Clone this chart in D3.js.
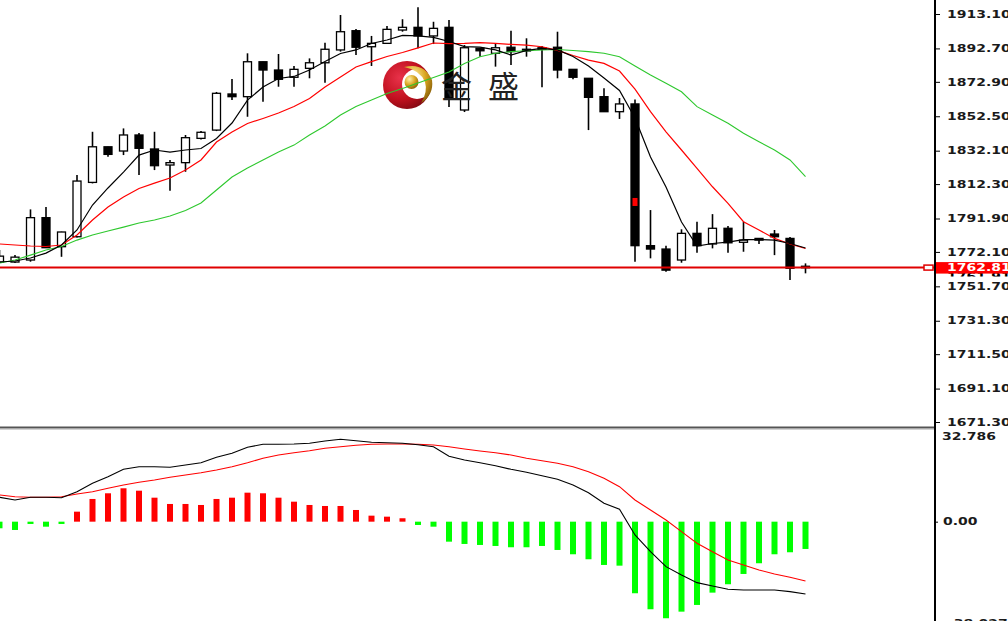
<!DOCTYPE html>
<html><head><meta charset="utf-8">
<script src="https://cdn.jsdelivr.net/npm/d3@7"></script>
<style>html,body{margin:0;padding:0;background:#fff;overflow:hidden}</style>
</head><body><svg id="c" width="1008" height="621"></svg>
<script>
// ---------- DATA ----------
const opens  = [1766.1,1766.1,1767.3,1792.4,1775.2,1781.1,1813.3,1834.4,1831.9,1841.4,1833.1,1823.6,1825.0,1839.4,1844.3,1865.7,1864.1,1884.8,1879.9,1875.6,1880.9,1884.2,1891.8,1903.2,1893.7,1895.7,1903.6,1905.2,1900.1,1905.2,1856.2,1892.8,1889.8,1893.4,1892.2,1892.2,1893.4,1880.3,1875.0,1864.1,1855.2,1859.8,1775.8,1773.8,1767.3,1783.1,1776.8,1786.1,1777.8,1780.1,1782.7,1780.1,1763.6];
const closes = [1769.6,1769.0,1792.4,1774.6,1783.9,1814.1,1834.4,1829.9,1841.4,1833.5,1823.2,1825.0,1839.8,1843.0,1866.1,1864.1,1884.8,1879.9,1874.4,1880.3,1884.2,1892.2,1902.6,1893.4,1895.7,1904.0,1905.2,1900.1,1904.6,1863.1,1893.1,1891.3,1893.1,1890.8,1891.2,1893.1,1879.9,1875.6,1863.7,1855.2,1859.8,1775.8,1773.8,1761.3,1783.1,1775.8,1786.1,1777.5,1779.1,1779.1,1781.1,1762.4,1762.81];
const highs  = [1773.2,1770.2,1797.3,1798.7,1784.1,1817.7,1843.3,1834.4,1845.3,1842.6,1843.3,1826.6,1841.4,1843.7,1866.9,1874.6,1889.8,1884.8,1889.4,1882.3,1886.8,1896.1,1912.5,1904.2,1900.1,1906.0,1910.0,1917.1,1908.5,1909.5,1894.7,1892.8,1895.7,1903.2,1898.7,1894.1,1902.6,1880.3,1875.0,1869.1,1863.3,1862.5,1796.9,1775.8,1785.5,1790.0,1794.5,1787.4,1790.0,1780.1,1785.1,1780.9,1765.3];
const lows   = [1765.5,1765.5,1766.3,1774.4,1769.2,1780.6,1812.7,1828.5,1829.5,1817.7,1820.6,1808.4,1819.6,1838.7,1843.7,1862.1,1852.2,1861.1,1870.0,1870.0,1875.0,1872.4,1890.8,1888.8,1882.3,1895.3,1902.6,1892.8,1895.3,1858.0,1855.0,1887.8,1881.9,1882.9,1887.8,1869.7,1875.0,1874.4,1844.3,1855.2,1850.9,1766.3,1768.3,1760.3,1765.7,1771.6,1774.2,1771.6,1772.2,1776.8,1770.2,1755.4,1759.4];
const maFast = [1766.1,1766.7,1768.5,1771.4,1776.2,1785.1,1799.9,1810.0,1819.4,1829.5,1832.5,1831.3,1832.5,1833.4,1839.3,1848.5,1862.1,1869.8,1874.9,1876.1,1879.9,1884.9,1889.7,1891.8,1895.6,1897.7,1900.4,1900.1,1899.2,1896.8,1893.8,1893.5,1891.8,1888.8,1891.5,1892.7,1891.8,1887.9,1882.3,1875.2,1867.8,1851.5,1828.3,1810.6,1789.8,1775.6,1777.1,1777.9,1779.4,1779.4,1779.1,1777.1,1774.4];
const maMid  = [1776.8,1776.2,1775.6,1775.3,1776.2,1782.1,1791.0,1798.7,1804.6,1809.7,1812.9,1815.9,1820.6,1826.6,1837.2,1843.2,1848.2,1851.2,1854.4,1858.3,1863.0,1869.8,1875.8,1881.7,1884.9,1887.9,1890.3,1893.0,1895.9,1895.6,1895.7,1896.1,1895.7,1895.1,1894.7,1893.7,1891.5,1888.5,1885.8,1883.8,1879.3,1868.6,1855.2,1843.3,1832.5,1821.6,1810.7,1800.9,1790.0,1785.1,1780.1,1776.8,1774.1];
const maSlow = [1765.5,1767.3,1770.2,1773.2,1775.3,1779.1,1782.1,1784.5,1786.8,1789.2,1791.0,1793.4,1796.6,1801.1,1808.8,1816.5,1821.8,1826.6,1831.3,1835.4,1841.4,1846.7,1853.2,1858.3,1862.1,1866.0,1868.9,1872.2,1875.5,1878.7,1883.8,1887.8,1889.8,1890.8,1891.3,1891.8,1892.1,1891.5,1890.8,1889.8,1887.8,1882.3,1876.9,1872.0,1867.0,1858.2,1853.2,1848.3,1842.4,1837.4,1832.5,1826.6,1816.7];
const macdHist   = [-2.36,-2.97,-0.82,-1.79,-0.82,3.58,8.12,10.15,11.94,11.08,8.58,6.33,6.33,5.97,8.12,8.58,10.37,10.15,8.58,7.15,5.97,5.61,5.61,4.18,2.15,1.79,1.22,-1.18,-1.79,-7.15,-7.97,-8.33,-8.69,-9.15,-9.15,-8.69,-10.12,-11.66,-13.44,-15.48,-15.73,-25.6,-31.32,-34.54,-32.18,-29.78,-25.38,-22.38,-18.7,-14.87,-11.66,-10.94,-9.76];
const macdMain   = [8.72,7.76,8.72,8.72,8.58,10.73,13.73,16.09,18.73,19.66,19.66,19.45,20.27,21.09,23.02,24.45,26.6,27.67,27.67,27.78,28.03,28.85,29.46,28.96,28.39,28.24,28.03,27.53,26.81,23.38,22.06,21.09,20.02,18.73,17.66,16.45,15.16,13.12,10.37,6.58,4.43,-4.76,-10.73,-16.09,-19.06,-21.81,-22.99,-24.17,-24.42,-24.42,-24.42,-25.03,-25.85];
const macdSignal = [9.55,8.94,8.72,8.72,8.94,9.90,10.73,11.94,13.12,14.09,14.91,15.87,16.70,17.52,18.48,19.66,21.09,22.67,23.85,24.67,25.38,26.24,26.81,27.32,27.67,27.78,27.78,27.67,27.42,26.81,25.99,25.28,24.67,23.85,22.67,21.81,20.88,19.66,17.88,15.52,12.51,7.76,4.18,0.61,-3.58,-7.72,-10.73,-13.69,-15.48,-17.27,-18.70,-19.88,-21.2];
const priceTicks = [1913.10,1892.70,1872.90,1852.50,1832.10,1812.30,1791.90,1772.10,1751.70,1731.30,1711.50,1691.10,1671.30];
const macdMax = 32.786, macdMin = -38.027;
const currentPrice = 1762.81;
const hiddenPrice = 1761.91;
const markerBar = 41, markerPrice = 1801.7;
const logoText = ["金","盛"];

// ---------- SCALES ----------
const svg = d3.select('#c');
const axisX = 935;
const x = d3.scaleLinear().domain([0, 52]).range([-0.5, 805.5]);
const y = d3.scaleLinear().domain([1671.3, 1913.1]).range([422, 14]);
const ym = d3.scaleLinear().domain([macdMin, macdMax]).range([628, 430]);

const defs = svg.append('defs');
defs.append('clipPath').attr('id','cp').append('rect').attr('x',0).attr('y',0).attr('width',axisX).attr('height',426);
defs.append('clipPath').attr('id','cm').append('rect').attr('x',0).attr('y',430).attr('width',axisX).attr('height',200);
defs.append('clipPath').attr('id','ch').append('rect').attr('x',936).attr('y',260).attr('width',80).attr('height',16.5);
const rg = defs.append('radialGradient').attr('id','redg').attr('cx','35%').attr('cy','35%').attr('r','75%');
rg.append('stop').attr('offset','0%').attr('stop-color','#e8324a');
rg.append('stop').attr('offset','60%').attr('stop-color','#c0101e');
rg.append('stop').attr('offset','100%').attr('stop-color','#7a0710');
const gg = defs.append('radialGradient').attr('id','goldg').attr('cx','35%').attr('cy','30%').attr('r','75%');
gg.append('stop').attr('offset','0%').attr('stop-color','#fff2a8');
gg.append('stop').attr('offset','55%').attr('stop-color','#d9a520');
gg.append('stop').attr('offset','100%').attr('stop-color','#8a6008');

// ---------- CANDLES ----------
const pg = svg.append('g').attr('clip-path','url(#cp)');
const candles = opens.map((o,i)=>({i, o, c:closes[i], h:highs[i], l:lows[i]}));
pg.selectAll('line.wick').data(candles).join('line').attr('class','wick')
  .attr('x1',d=>x(d.i)).attr('x2',d=>x(d.i))
  .attr('y1',d=>y(d.h)).attr('y2',d=>y(d.l))
  .attr('stroke','#000').attr('stroke-width',1.6);
pg.selectAll('rect.body').data(candles).join('rect').attr('class','body')
  .attr('x',d=>x(d.i)-4).attr('width',8)
  .attr('y',d=>y(Math.max(d.o,d.c)))
  .attr('height',d=>Math.max(1.5, Math.abs(y(d.o)-y(d.c))))
  .attr('fill',d=>d.c>=d.o?'#fff':'#000')
  .attr('stroke','#000').attr('stroke-width',1.3);
pg.append('rect').attr('x',x(markerBar)-2.5).attr('y',y(markerPrice)-4).attr('width',5).attr('height',8).attr('fill','#ff0000');

// ---------- LOGO (over candles) ----------
const logo = pg.append('g');
logo.append('circle').attr('cx',407).attr('cy',85).attr('r',24).attr('fill','url(#redg)');
logo.append('circle').attr('cx',417).attr('cy',84).attr('r',15).attr('fill','#fff');
logo.append('path').attr('d','M404,67 Q424,62 432,80 Q434,95 421,103 Q428,92 425,82 Q420,70 404,67 Z').attr('fill','url(#goldg)');
logo.append('circle').attr('cx',411.5).attr('cy',82).attr('r',7).attr('fill','url(#goldg)');
logo.selectAll('text').data(logoText).join('text')
  .attr('x',(d,i)=>456.5 + i*47).attr('y',98)
  .attr('text-anchor','middle')
  .attr('font-family','"Noto Sans CJK SC", sans-serif')
  .attr('font-size',31).attr('fill','#222').text(d=>d);

// ---------- MAs ----------
const line = d3.line().x((d,i)=>x(i)).y(d=>y(d));
pg.append('path').datum(maSlow).attr('d',line).attr('fill','none').attr('stroke','#2ec82e').attr('stroke-width',1.1);
pg.append('path').datum(maMid).attr('d',line).attr('fill','none').attr('stroke','#ff0000').attr('stroke-width',1.2);
pg.append('path').datum(maFast).attr('d',line).attr('fill','none').attr('stroke','#000').attr('stroke-width',1.2);

// current price line
pg.append('line').attr('x1',0).attr('x2',axisX).attr('y1',y(currentPrice)).attr('y2',y(currentPrice))
  .attr('stroke','#e00000').attr('stroke-width',2);
svg.append('rect').attr('x',924).attr('y',y(currentPrice)-2.5).attr('width',9).attr('height',5)
  .attr('fill','#fff').attr('stroke','#e00000').attr('stroke-width',1.5);

// ---------- MACD ----------
const mg = svg.append('g').attr('clip-path','url(#cm)');
mg.selectAll('rect.h').data(macdHist).join('rect').attr('class','h')
  .attr('x',(d,i)=>x(i)-3).attr('width',6)
  .attr('y',d=>Math.min(ym(d), ym(0)))
  .attr('height',d=>Math.abs(ym(d)-ym(0)))
  .attr('fill',d=>d>=0?'#ff0000':'#00ff00');
const mline = d3.line().x((d,i)=>x(i)).y(d=>ym(d));
mg.append('path').datum(macdSignal).attr('d',mline).attr('fill','none').attr('stroke','#ff0000').attr('stroke-width',1.1);
mg.append('path').datum(macdMain).attr('d',mline).attr('fill','none').attr('stroke','#000').attr('stroke-width',1.1);

// separator
svg.append('rect').attr('x',0).attr('y',426.5).attr('width',axisX+1).attr('height',1.5).attr('fill','#555');
svg.append('rect').attr('x',0).attr('y',428).attr('width',axisX+1).attr('height',1.5).attr('fill','#a8a8a8');

// ---------- AXES ----------
const fontFam = '"DejaVu Sans", Verdana, sans-serif';
const ax = svg.append('g').attr('transform',`translate(${axisX},0)`)
  .call(d3.axisRight(y).tickValues(priceTicks).tickSize(5).tickFormat(d3.format('.2f')));
ax.select('.domain').remove();
ax.selectAll('line').attr('stroke','#000');
ax.selectAll('text').attr('x',0).attr('dy','0.32em')
  .attr('transform','translate(12,0) scale(1.4,1)')
  .attr('font-family',fontFam).attr('font-weight','bold').attr('font-size',10).attr('fill','#1a1a1a');

const am = svg.append('g').attr('transform',`translate(${axisX},0)`)
  .call(d3.axisRight(ym).tickValues([0]).tickSize(3).tickFormat(d3.format('.2f')));
am.select('.domain').remove();
am.selectAll('line').attr('stroke','#000');
am.selectAll('text').attr('x',0).attr('dy','0.32em')
  .attr('transform','translate(8,0) scale(1.4,1)')
  .attr('font-family',fontFam).attr('font-weight','bold').attr('font-size',10).attr('fill','#1a1a1a');

const extra = [{v:macdMax, yy:ym(macdMax)+6.5}, {v:macdMin, yy:ym(macdMin)-4}];
svg.selectAll('g.mx').data(extra).join('g').attr('class','mx')
  .attr('transform',d=>`translate(${axisX+7},${d.yy}) scale(1.4,1)`)
  .append('text').attr('dy','0.32em')
  .attr('font-family',fontFam).attr('font-weight','bold').attr('font-size',10).attr('fill','#1a1a1a')
  .text(d=>d3.format('.3f')(d.v));

// axis line
svg.append('rect').attr('x',axisX-1).attr('y',0).attr('width',2).attr('height',621).attr('fill','#000');

// hidden bid label (partially covered)
svg.append('g').attr('clip-path','url(#ch)')
  .append('g').attr('transform',`translate(947,${y(currentPrice)+9.5}) scale(1.4,1)`)
  .append('text').attr('dy','0.32em').attr('font-family',fontFam).attr('font-weight','bold').attr('font-size',10).attr('fill','#000')
  .text(d3.format('.2f')(hiddenPrice));
// current price box
svg.append('rect').attr('x',axisX+1).attr('y',y(currentPrice)-5.5).attr('width',80).attr('height',11.5).attr('fill','#ff0000');
svg.append('g').attr('transform',`translate(947,${y(currentPrice)}) scale(1.4,1)`)
  .append('text').attr('dy','0.32em').attr('font-family',fontFam).attr('font-weight','bold').attr('font-size',10).attr('fill','#fff')
  .text(d3.format('.2f')(currentPrice));
</script></body></html>
